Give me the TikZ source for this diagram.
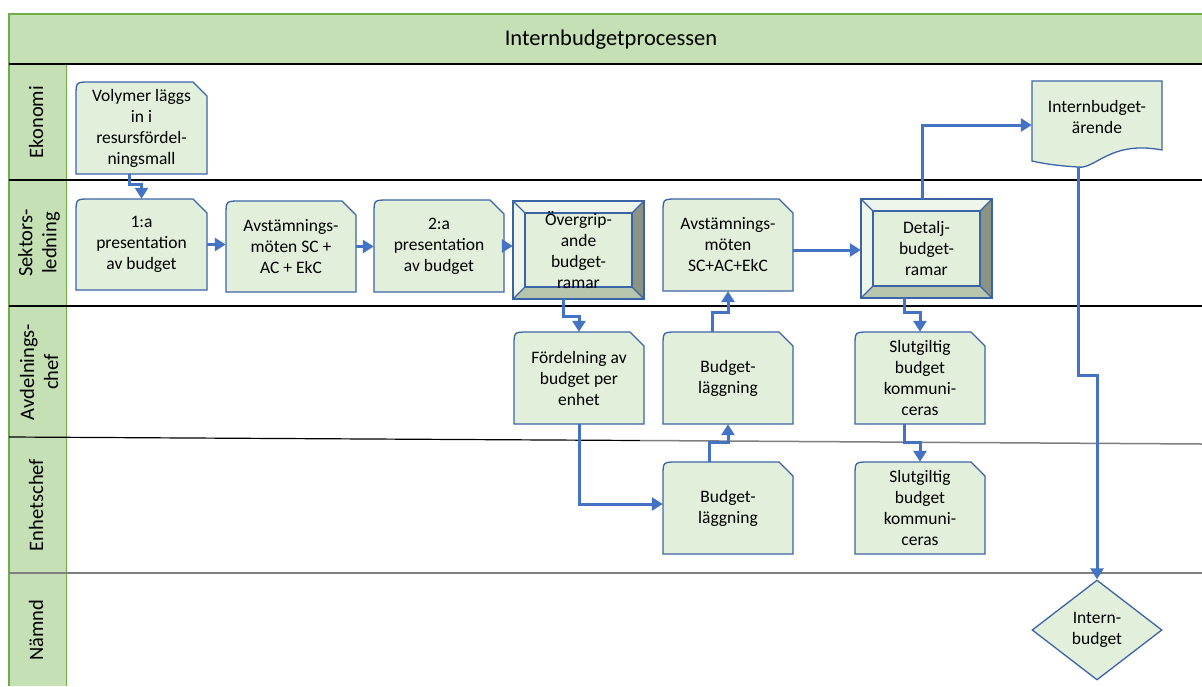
\documentclass[tikz,border=0pt]{standalone}
\usepackage{fontspec}
\setmainfont{Carlito}
\usetikzlibrary{arrows.meta,shapes.geometric,calc}
\definecolor{lanefill}{HTML}{C5E0B4}
\definecolor{lanegreen}{HTML}{70AD47}
\definecolor{boxfill}{HTML}{E2EFDA}
\definecolor{boxblue}{HTML}{3B64A6}
\definecolor{arrblue}{HTML}{4472C4}
\definecolor{bevlight}{HTML}{EEF5EA}
\definecolor{bevdark}{HTML}{8B9484}
\definecolor{bevmid}{HTML}{B8C5AE}
\definecolor{gridgray}{HTML}{7F7F7F}
\tikzset{
  boxline/.style={draw=boxblue, line width=1.3pt},
  boxtext/.style={inner sep=0pt, align=center, font=\fontsize{17.5}{21}\selectfont},
  lanetext/.style={rotate=90, align=center, font=\fontsize{20.5}{24}\selectfont},
  arr/.style={draw=arrblue, line width=3pt, -{Triangle[length=11pt,width=13pt]}},
}
\newcommand\snipnode[6]{% name, left, top, width, height, text
  \filldraw[boxline, fill=boxfill] ({#2},{#3+#5}) -- ({#2},{#3+14}) .. controls ({#2},{#3}) .. ({#2+14},{#3})
     -- ({#2+#4-14},{#3}) -- ({#2+#4},{#3+14}) -- ({#2+#4},{#3+#5}) -- cycle;
  \node[boxtext, minimum width=#4pt, minimum height=#5pt] (#1) at ({#2+#4/2},{#3+#5/2}) {#6};
}
\newcommand\bevelnode[6]{% name, left, top, width, height, text
  \pgfmathsetmacro\bvL{#2}\pgfmathsetmacro\bvT{#3}%
  \pgfmathsetmacro\bvR{#2+#4}\pgfmathsetmacro\bvB{#3+#5}%
  \pgfmathsetmacro\bvli{#2+12}\pgfmathsetmacro\bvti{#3+12}%
  \pgfmathsetmacro\bvri{#2+#4-12}\pgfmathsetmacro\bvbi{#3+#5-12}%
  \fill[bevlight] (\bvL,\bvT) -- (\bvR,\bvT) -- (\bvri,\bvti) -- (\bvli,\bvti) -- cycle;
  \fill[bevlight] (\bvL,\bvT) -- (\bvli,\bvti) -- (\bvli,\bvbi) -- (\bvL,\bvB) -- cycle;
  \fill[bevdark] (\bvR,\bvT) -- (\bvR,\bvB) -- (\bvri,\bvbi) -- (\bvri,\bvti) -- cycle;
  \fill[bevmid] (\bvL,\bvB) -- (\bvR,\bvB) -- (\bvri,\bvbi) -- (\bvli,\bvbi) -- cycle;
  \draw[boxline] (\bvL,\bvT) rectangle (\bvR,\bvB);
  \filldraw[boxline, fill=boxfill] (\bvli,\bvti) rectangle (\bvri,\bvbi);
  \draw[boxline] (\bvL,\bvT) -- (\bvli,\bvti) (\bvR,\bvT) -- (\bvri,\bvti)
     (\bvR,\bvB) -- (\bvri,\bvbi) (\bvL,\bvB) -- (\bvli,\bvbi);
  \node[boxtext, minimum width=#4pt, minimum height=#5pt] (#1) at ({#2+#4/2},{#3+#5/2}) {#6};
}
\begin{document}
\begin{tikzpicture}[x=1pt,y=-1pt]
\useasboundingbox (0,0) rectangle (1202,686);
\fill[white] (0,0) rectangle (1202,686);
% title band and label column
\fill[lanefill] (9,14) rectangle (1202,64);
\fill[lanefill] (9,64) rectangle (66,686);
\draw[lanegreen, line width=1.2pt] (1202,14) -- (9,14) -- (9,686);
\draw[lanegreen, line width=1pt] (66,64) -- (66,686);
\node[font=\fontsize{22.5}{26}\selectfont] (title) at (611,40) {Internbudgetprocessen};
% lane separators
\draw[line width=2pt] (9,64) -- (1202,64);
\draw[line width=1.2pt] (9,180) -- (1202,180);
\draw[line width=1.2pt] (9,306) -- (1202,306);
\draw[line width=1.2pt] (9,437) -- (640,440.5);
\draw[gridgray, line width=1.5pt] (640,440.5) -- (1202,444);
\draw[gridgray, line width=2pt] (9,573) -- (1202,573);
% lane labels
\node[lanetext] (lab1) at (36,122) {Ekonomi};
\node[lanetext] (lab2) at (39,243) {Sektors-\\ledning};
\node[lanetext] (lab3) at (39,372) {Avdelnings-\\chef};
\node[lanetext] (lab4) at (36,505) {Enhetschef};
\node[lanetext] (lab5) at (36,630) {Nämnd};
% boxes
\snipnode{vol}{76}{82}{131}{92}{Volymer läggs\\in i\\resursfördel-\\ningsmall}
\snipnode{a1}{76}{199}{131}{91}{1:a\\presentation\\av budget}
\snipnode{avs1}{226}{201}{130}{91}{Avstämnings-\\möten SC +\\AC + EkC}
\snipnode{a2}{374}{200}{130}{92}{2:a\\presentation\\av budget}
\bevelnode{over}{513}{201}{131}{98}{\fontsize{17.5}{19.5}\selectfont Övergrip-\\ande\\budget-\\ramar}
\snipnode{avs2}{663}{199}{130}{92}{Avstämnings-\\möten\\SC+AC+EkC}
\bevelnode{det}{861}{199}{131}{99}{Detalj-\\budget-\\ramar}
\snipnode{ford}{514}{332}{130}{92}{Fördelning av\\budget per\\enhet}
\snipnode{bl1}{663}{332}{130}{92}{Budget-\\läggning}
\snipnode{sl1}{855}{332}{130}{92}{Slutgiltig\\budget\\kommuni-\\ceras}
\snipnode{bl2}{663}{462}{130}{92}{Budget-\\läggning}
\snipnode{sl2}{855}{462}{130}{92}{Slutgiltig\\budget\\kommuni-\\ceras}
% document shape
\filldraw[boxline, fill=boxfill] (1032,81) -- (1162,81) -- (1162,150)
   .. controls (1110,140) and (1095,170) .. (1078,167)
   .. controls (1060,166) and (1045,164) .. (1032,161) -- cycle;
\node[boxtext, minimum width=130pt, minimum height=72pt] (ib) at (1097,117) {Internbudget-\\ärende};
% diamond
\node[boxtext, shape=diamond, boxline, fill=boxfill, minimum width=130pt, minimum height=100pt] (dia) at (1097,630) {Intern-\\budget};
% connectors
\draw[arr] ([xshift=-12pt]vol.south) -- ++(0,10) -| (a1.north);
\draw[arr] (a1.east) -- (a1.east -| avs1.west);
\draw[arr] (avs1.east) -- (avs1.east -| a2.west);
\draw[arr] (a2.east) -- (a2.east -| over.west);
\draw[arr] ([yshift=-5pt]avs2.east) -- ([yshift=-5pt]avs2.east -| det.west);
\draw[arr] ([xshift=-4.5pt]det.north) |- ([yshift=-8pt]ib.west);
\draw[arr, shorten <=14pt] ([xshift=-19pt]ib.south) -- ++(0,222) -| (dia.north);
\draw[arr] ([xshift=-15.5pt]over.south) -- ++(0,17) -| (ford.north);
\draw[arr] (ford.south) |- ([yshift=4pt]bl2.west);
\draw[arr] ([xshift=-19pt]bl2.north) -- ++(0,-19) -| (bl1.south);
\draw[arr] ([xshift=-16pt]bl1.north) -- ++(0,-19) -| (avs2.south);
\draw[arr] ([xshift=-22.5pt]det.south) -- ++(0,14) -| (sl1.north);
\draw[arr] ([xshift=-16pt]sl1.south) -- ++(0,18) -| (sl2.north);
\end{tikzpicture}
\end{document}
